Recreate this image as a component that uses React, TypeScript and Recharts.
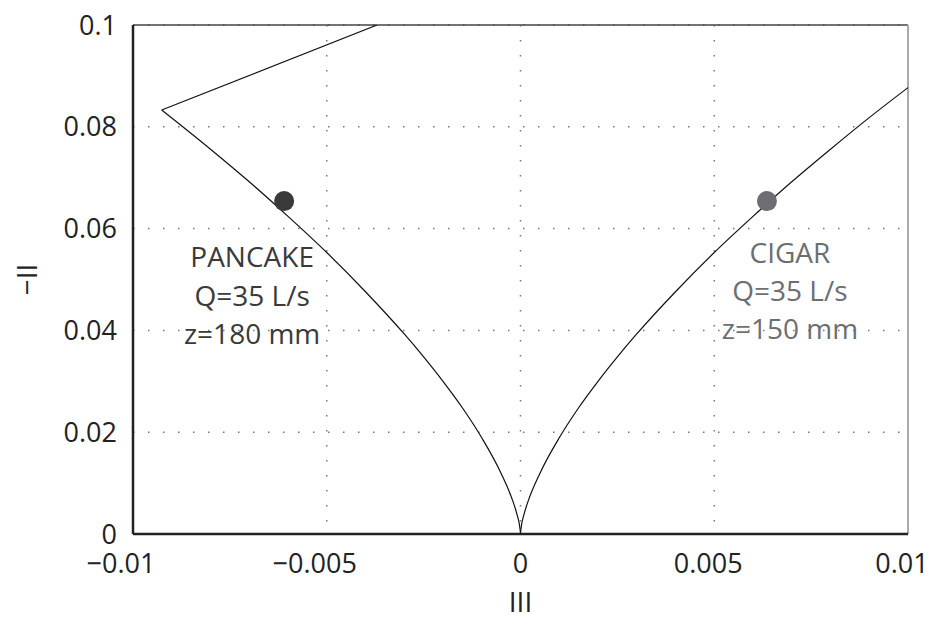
import React from 'react';
import {
  ComposedChart,
  Line,
  XAxis,
  YAxis,
  CartesianGrid,
  ReferenceLine,
  ReferenceDot,
} from 'recharts';

// axisymmetric branch, left side (pancake), ordered by III
const leftIII = [-0.00926, -0.008, -0.007, -0.006, -0.005, -0.004, -0.003, -0.0025, -0.002, -0.0015, -0.001, -0.0005, -0.0002, -0.0001, -0.00001, 0];
const leftII = [0.0833, 0.0756, 0.0692, 0.0624, 0.0553, 0.0476, 0.0393, 0.0348, 0.03, 0.0248, 0.0189, 0.0119, 0.0065, 0.0041, 0.0009, 0];

// axisymmetric branch, right side (cigar)
const rightIII = [0, 0.00001, 0.0001, 0.0002, 0.0005, 0.001, 0.0015, 0.002, 0.0025, 0.003, 0.004, 0.005, 0.006, 0.007, 0.008, 0.009, 0.01];
const rightII = [0, 0.0009, 0.0041, 0.0065, 0.0119, 0.0189, 0.0248, 0.03, 0.0348, 0.0393, 0.0476, 0.0553, 0.0624, 0.0692, 0.0756, 0.0818, 0.0877];

// two-component limit
const twoCompIII = [-0.00926, -0.0037];
const twoCompII = [0.0833, 0.1];

const xTicks = [-0.01, -0.005, 0, 0.005, 0.01];
const yTicks = [0, 0.02, 0.04, 0.06, 0.08, 0.1];

const cases = [
  { name: 'PANCAKE', q: 'Q=35 L/s', z: 'z=180 mm', III: -0.0061, II: 0.0654, color: '#3a3a3a', dx: -32, dy: [55, 94, 132] },
  { name: 'CIGAR', q: 'Q=35 L/s', z: 'z=150 mm', III: 0.00636, II: 0.0654, color: '#6d6e71', dx: 23, dy: [51, 89, 127] },
];

const toPoints = (xs: number[], ys: number[]) => xs.map((x, i) => ({ x, y: ys[i] }));

const FONT = '"Open Sans", sans-serif';

const fmtX = (v: number) => {
  if (v === 0) return '0';
  const s = String(Math.abs(v));
  return v < 0 ? `\u2212${s}` : s;
};

const XTick = (props: any) => {
  const { x, y, payload } = props;
  const v = payload.value;
  const shift = v < 0 ? -12 : v > 0 ? -6 : 0;
  return (
    <text
      x={x + shift}
      y={y + 12}
      dy="0.71em"
      textAnchor="middle"
      fill="#222"
      fontSize={27}
      fontFamily={FONT}
    >
      {fmtX(v)}
    </text>
  );
};

const CaseLabel = (props: any) => {
  const { viewBox, c } = props;
  const cx = viewBox.x + viewBox.width / 2;
  const cy = viewBox.y + viewBox.height / 2;
  const lines = [c.name, c.q, c.z];
  return (
    <g>
      {lines.map((t: string, i: number) => (
        <text
          key={i}
          x={cx + c.dx}
          y={cy + c.dy[i]}
          textAnchor="middle"
          dominantBaseline="central"
          fontFamily={FONT}
          fontSize={28}
          fill={c.color}
        >
          {t}
        </text>
      ))}
    </g>
  );
};

export default function App() {
  return (
    <div style={{ position: 'absolute', left: 0, top: 0, background: '#fff' }}>
      <ComposedChart
        width={933}
        height={622}
        margin={{ top: 25, right: 25, left: 73, bottom: 48 }}
      >
        <CartesianGrid stroke="#777" strokeWidth={1.5} strokeDasharray="1.5 13.5" />
        <XAxis
          type="number"
          dataKey="x"
          domain={[-0.01, 0.01]}
          ticks={xTicks}
          allowDataOverflow
          tickLine={false}
          axisLine={{ stroke: '#222', strokeWidth: 2.5 }}
          tick={<XTick />}
          height={40}
          label={{ value: 'III', position: 'insideBottom', offset: -38, fill: '#222', fontSize: 28, fontFamily: FONT }}
        />
        <YAxis
          type="number"
          dataKey="y"
          domain={[0, 0.1]}
          ticks={yTicks}
          allowDataOverflow
          tickLine={false}
          axisLine={{ stroke: '#222', strokeWidth: 2.5 }}
          tick={{ fill: '#222', fontSize: 27, fontFamily: FONT }}
          tickMargin={10}
          width={60}
          label={{ value: '\u2212II', angle: -90, position: 'insideLeft', offset: -46, fill: '#222', fontSize: 28, fontFamily: FONT, style: { textAnchor: 'middle' } }}
        />
        <ReferenceLine y={0.1} stroke="#444" strokeWidth={1.5} />
        <ReferenceLine x={0.01} stroke="#aaa" strokeWidth={2} />
        <Line type="monotone" data={toPoints(leftIII, leftII)} dataKey="y" stroke="#111" strokeWidth={1.2} dot={false} isAnimationActive={false} />
        <Line type="monotone" data={toPoints(rightIII, rightII)} dataKey="y" stroke="#111" strokeWidth={1.2} dot={false} isAnimationActive={false} />
        <Line type="linear" data={toPoints(twoCompIII, twoCompII)} dataKey="y" stroke="#111" strokeWidth={1.2} dot={false} isAnimationActive={false} />
        {cases.map((c) => (
          <ReferenceDot
            key={c.name}
            x={c.III}
            y={c.II}
            r={10}
            fill={c.color}
            stroke="none"
            label={<CaseLabel c={c} />}
          />
        ))}
      </ComposedChart>
    </div>
  );
}
